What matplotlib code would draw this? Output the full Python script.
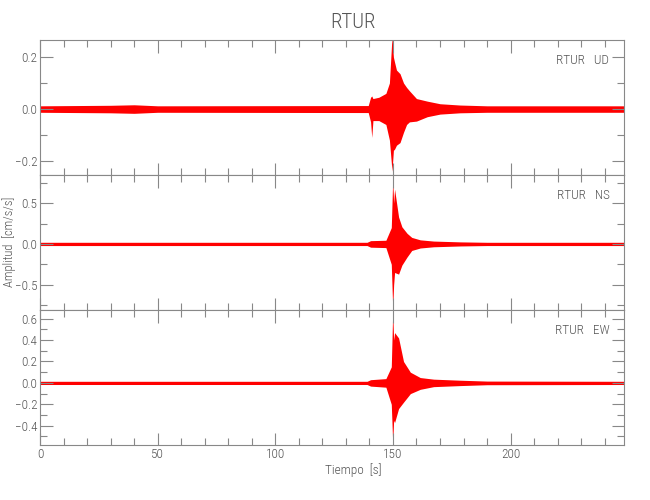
import matplotlib
matplotlib.use('Agg')
import matplotlib.pyplot as plt
from matplotlib.ticker import MultipleLocator
from matplotlib import font_manager

# envelope of each trace (time [s], upper, lower) in cm/s/s
t_ud = [0, 30, 40, 50, 139.5, 140.5, 141, 141.5, 144, 147, 148.5, 149.6, 150.2, 150.7, 151.5, 153, 154.5, 155.8, 157, 160, 164.6, 170, 178.5, 190, 248]
up_ud = [0.012, 0.014, 0.016, 0.012, 0.013, 0.045, 0.05, 0.04, 0.045, 0.06, 0.10, 0.28, 0.20, 0.18, 0.15, 0.136, 0.10, 0.083, 0.07, 0.04, 0.03, 0.02, 0.015, 0.012, 0.012]
lo_ud = [-0.013, -0.015, -0.017, -0.013, -0.014, -0.05, -0.11, -0.045, -0.045, -0.06, -0.12, -0.24, -0.16, -0.155, -0.14, -0.13, -0.09, -0.06, -0.05, -0.047, -0.03, -0.02, -0.015, -0.013, -0.013]

t_ns = [0, 139, 140.5, 147, 149.3, 149.9, 150.3, 150.7, 152.4, 153.8, 156, 158, 161.6, 167.3, 178.7, 190, 248]
up_ns = [0.02, 0.02, 0.04, 0.045, 0.2, 0.79, 0.5, 0.67, 0.33, 0.21, 0.13, 0.08, 0.05, 0.035, 0.025, 0.02, 0.02]
lo_ns = [-0.02, -0.02, -0.04, -0.045, -0.25, -0.78, -0.5, -0.35, -0.37, -0.26, -0.16, -0.08, -0.05, -0.035, -0.025, -0.02, -0.02]

t_ew = [0, 139, 140.5, 147, 149.3, 149.9, 150.3, 150.7, 152.4, 154.5, 157.4, 161.6, 167.3, 178.7, 190, 248]
up_ew = [0.015, 0.015, 0.03, 0.04, 0.15, 0.66, 0.4, 0.47, 0.42, 0.2, 0.1, 0.05, 0.035, 0.025, 0.017, 0.015]
lo_ew = [-0.015, -0.015, -0.03, -0.04, -0.2, -0.56, -0.35, -0.37, -0.24, -0.18, -0.1, -0.06, -0.035, -0.025, -0.017, -0.015]

station = 'RTUR'
components = ['UD', 'NS', 'EW']
ylims = [(-0.255, 0.266), (-0.81, 0.845), (-0.58, 0.681)]
major_steps = [0.2, 0.5, 0.2]
minor_steps = [0.1, 0.25, 0.1]

names = {f.name for f in font_manager.fontManager.ttflist}
if 'Roboto Condensed' in names:
    plt.rcParams['font.family'] = ['Roboto Condensed', 'DejaVu Sans']
else:
    plt.rcParams['font.family'] = ['Roboto', 'DejaVu Sans']
plt.rcParams['font.weight'] = 'light'
grey = '#555555'

fig = plt.figure(figsize=(6.5, 5), dpi=100)
data = [(t_ud, up_ud, lo_ud), (t_ns, up_ns, lo_ns), (t_ew, up_ew, lo_ew)]
axes = []
for i, (t, up, lo) in enumerate(data):
    ax = fig.add_axes([40 / 650, 1 - (175 + 135 * i) / 500, 584 / 650, 135 / 500])
    ax.fill_between(t, lo, up, color='red', linewidth=0)
    ax.set_xlim(0, 248.2)
    ax.set_ylim(*ylims[i])
    ax.xaxis.set_major_locator(MultipleLocator(50))
    ax.xaxis.set_minor_locator(MultipleLocator(10))
    ax.yaxis.set_major_locator(MultipleLocator(major_steps[i]))
    ax.yaxis.set_minor_locator(MultipleLocator(minor_steps[i]))
    ax.tick_params(which='both', direction='in', top=True, right=True, color='#888888',
                   labelcolor=grey, labelsize=9.5, width=0.8, pad=2)
    ax.tick_params(which='major', length=9)
    ax.tick_params(which='minor', length=5)
    for s in ax.spines.values():
        s.set_color('#888888')
        s.set_linewidth(0.8)
    if i < 2:
        ax.tick_params(labelbottom=False)
    ax.text(0.975, 0.85, station + '   ' + components[i], transform=ax.transAxes,
            ha='right', va='center', color=grey, fontsize=9.5)
    axes.append(ax)

fig.text(353 / 650, 1 - 22 / 500, station, ha='center', va='center', color=grey, fontsize=15)
fig.text(353 / 650, 1 - 470 / 500, 'Tiempo  [s]', ha='center', va='center', color=grey, fontsize=9.5)
fig.text(9 / 650, 1 - 242 / 500, 'Amplitud  [cm/s/s]', ha='center', va='center',
         rotation=90, color=grey, fontsize=9)

fig.savefig('out.png', dpi=100, facecolor='white')
